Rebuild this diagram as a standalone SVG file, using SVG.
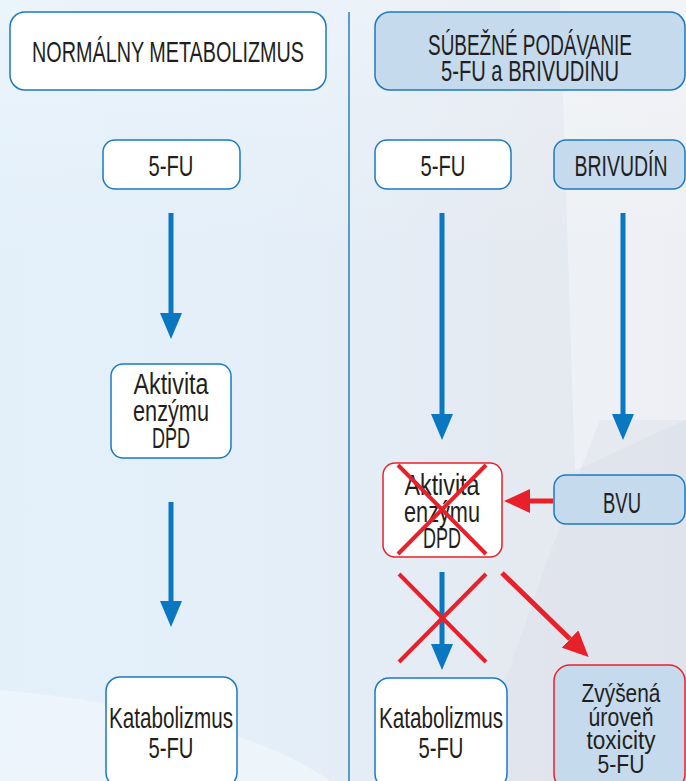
<svg xmlns="http://www.w3.org/2000/svg" width="686" height="781" viewBox="0 0 686 781">
  <defs>
    <linearGradient id="bg" x1="0" y1="0" x2="1" y2="0">
      <stop offset="0" stop-color="#e3f0fa"/>
      <stop offset="0.45" stop-color="#e4eef8"/>
      <stop offset="0.8" stop-color="#e5e9f0"/>
      <stop offset="1" stop-color="#e3e7ee"/>
    </linearGradient>
    <linearGradient id="sheen" x1="0" y1="0" x2="0" y2="1">
      <stop offset="0" stop-color="#ffffff" stop-opacity="0.55"/>
      <stop offset="1" stop-color="#ffffff" stop-opacity="0"/>
    </linearGradient>
    <marker id="ahBlue" viewBox="0 0 26 22" refX="0" refY="11" markerWidth="26" markerHeight="22" markerUnits="userSpaceOnUse" orient="auto">
      <path d="M0,0 L26,11 L0,22 Z" fill="#0a77c1"/>
    </marker>
    <marker id="ahRed" viewBox="0 0 26 24" refX="0" refY="12" markerWidth="26" markerHeight="24" markerUnits="userSpaceOnUse" orient="auto">
      <path d="M0,0 L26,12 L0,24 Z" fill="#e8202a"/>
    </marker>
  </defs>
  <style>
    .box { fill: #ffffff; stroke: #1b7ac2; stroke-width: 1.5; }
    .boxb { fill: #c6daee; stroke: #1b7ac2; stroke-width: 1.5; }
    .boxr { fill: #ffffff; stroke: #e8202a; stroke-width: 1.5; }
    .boxbr { fill: #c6daee; stroke: #e8202a; stroke-width: 1.5; }
    text { font-family: "Liberation Sans Narrow", "Liberation Sans", Arial, sans-serif; fill: #231f20; text-anchor: middle; font-size: 29px; }
    .tox { font-size: 26px; }
    .blue { stroke: #0a77c1; stroke-width: 5; fill: none; marker-end: url(#ahBlue); }
    .red { stroke: #e8202a; stroke-width: 5; fill: none; marker-end: url(#ahRed); }
    .cross { stroke: #e8202a; stroke-width: 4; fill: none; }
  </style>

  <!-- background -->
  <rect x="0" y="0" width="686" height="781" fill="url(#bg)"/>
  <path d="M560,0 L686,0 L686,420 C640,440 600,460 575,470 C570,330 565,150 560,0 Z" fill="#ffffff" opacity="0.35"/>
  <path d="M0,690 C120,700 260,730 330,781 L0,781 Z" fill="#ffffff" opacity="0.35"/>
  <path d="M600,420 C560,520 520,640 470,781 L686,781 L686,420 Z" fill="#d6dce5" opacity="0.3"/>
  <rect x="0" y="0" width="686" height="260" fill="url(#sheen)" opacity="0.5"/>

  <!-- divider -->
  <line x1="349" y1="12" x2="349" y2="781" stroke="#2b7fc0" stroke-width="1.5"/>

  <!-- headers -->
  <g id="hdr-normal">
    <rect class="box" x="10" y="12" width="316" height="78" rx="15"/>
    <text x="168" y="62" textLength="272" lengthAdjust="spacingAndGlyphs">NORMÁLNY METABOLIZMUS</text>
  </g>
  <g id="hdr-concurrent">
    <rect class="boxb" x="375" y="12" width="310" height="78" rx="15"/>
    <text x="530" y="55" textLength="204" lengthAdjust="spacingAndGlyphs">SÚBEŽNÉ PODÁVANIE</text>
    <text x="530" y="81" textLength="178" lengthAdjust="spacingAndGlyphs">5-FU a BRIVUDÍNU</text>
  </g>

  <!-- left column -->
  <g id="l-5fu">
    <rect class="box" x="103" y="140" width="137" height="49" rx="12"/>
    <text x="171" y="176" textLength="45" lengthAdjust="spacingAndGlyphs">5-FU</text>
  </g>
  <g id="l-dpd">
    <rect class="box" x="111" y="364" width="120" height="94" rx="12"/>
    <text x="171" y="394" textLength="75" lengthAdjust="spacingAndGlyphs">Aktivita</text>
    <text x="171" y="421" textLength="76" lengthAdjust="spacingAndGlyphs">enzýmu</text>
    <text x="171" y="448" textLength="38" lengthAdjust="spacingAndGlyphs">DPD</text>
  </g>
  <g id="l-kat">
    <rect class="box" x="106" y="677" width="131" height="110" rx="14"/>
    <text x="171" y="728" textLength="124" lengthAdjust="spacingAndGlyphs">Katabolizmus</text>
    <text x="171" y="758" textLength="45" lengthAdjust="spacingAndGlyphs">5-FU</text>
  </g>

  <!-- right column -->
  <g id="r-5fu">
    <rect class="box" x="375" y="140" width="136" height="49" rx="12"/>
    <text x="443" y="176" textLength="45" lengthAdjust="spacingAndGlyphs">5-FU</text>
  </g>
  <g id="r-briv">
    <rect class="boxb" x="554" y="140" width="131" height="49" rx="12"/>
    <text x="621" y="176" textLength="93" lengthAdjust="spacingAndGlyphs">BRIVUDÍN</text>
  </g>
  <g id="r-dpd">
    <rect class="boxr" x="383" y="463" width="119" height="94" rx="12"/>
    <text x="442" y="495" textLength="75" lengthAdjust="spacingAndGlyphs">Aktivita</text>
    <text x="442" y="522" textLength="76" lengthAdjust="spacingAndGlyphs">enzýmu</text>
    <text x="442" y="548" textLength="38" lengthAdjust="spacingAndGlyphs">DPD</text>
  </g>
  <g id="r-bvu">
    <rect class="boxb" x="554" y="475" width="131" height="49" rx="12"/>
    <text x="622" y="513" textLength="38" lengthAdjust="spacingAndGlyphs">BVU</text>
  </g>
  <g id="r-kat">
    <rect class="box" x="375" y="678" width="132" height="110" rx="14"/>
    <text x="441" y="728" textLength="124" lengthAdjust="spacingAndGlyphs">Katabolizmus</text>
    <text x="441" y="758" textLength="45" lengthAdjust="spacingAndGlyphs">5-FU</text>
  </g>
  <g id="r-tox">
    <rect class="boxbr" x="554" y="665" width="131" height="125" rx="16"/>
    <text class="tox" x="621" y="702" textLength="79" lengthAdjust="spacingAndGlyphs">Zvýšená</text>
    <text class="tox" x="621" y="726" textLength="65" lengthAdjust="spacingAndGlyphs">úroveň</text>
    <text class="tox" x="621" y="749" textLength="69" lengthAdjust="spacingAndGlyphs">toxicity</text>
    <text class="tox" x="621" y="773" textLength="47" lengthAdjust="spacingAndGlyphs">5-FU</text>
  </g>

  <!-- connectors -->
  <g id="connectors">
    <line class="blue" x1="171" y1="213" x2="171" y2="313"/>
    <line class="blue" x1="171" y1="502" x2="171" y2="601"/>
    <line class="blue" x1="442" y1="213" x2="442" y2="414"/>
    <line class="blue" x1="623" y1="213" x2="623" y2="414"/>
    <line class="red" x1="553" y1="501" x2="530" y2="501"/>
    <line class="blue" x1="442" y1="572" x2="442" y2="644"/>
    <line class="red" x1="502" y1="573" x2="570" y2="639"/>
    <!-- crosses -->
    <line class="cross" x1="398" y1="465" x2="486" y2="554"/>
    <line class="cross" x1="486" y1="465" x2="398" y2="554"/>
    <line class="cross" x1="399" y1="574" x2="486" y2="662"/>
    <line class="cross" x1="486" y1="574" x2="399" y2="662"/>
  </g>
</svg>
